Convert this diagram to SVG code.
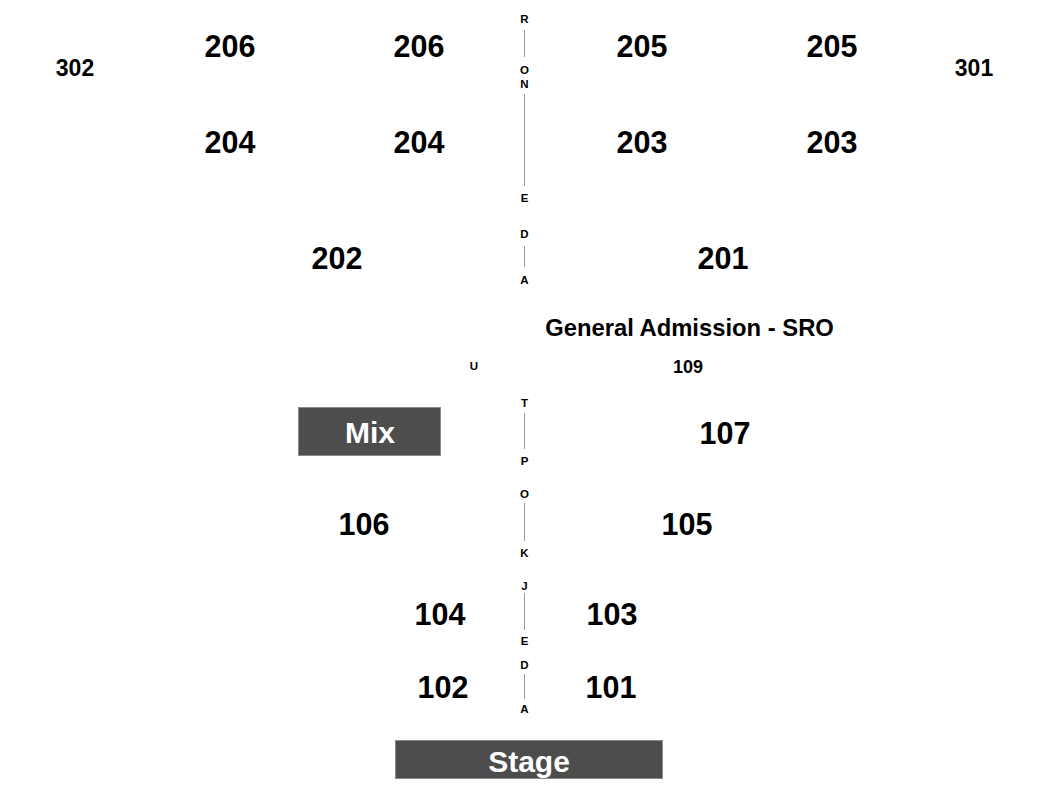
<svg xmlns="http://www.w3.org/2000/svg" width="1050" height="808" viewBox="0 0 1050 808">
<style>
text{font-family:"Liberation Sans",Arial,sans-serif;font-weight:bold;fill:#000;text-anchor:middle}
.big{font-size:30.5px}
.mid{font-size:23px}
.sm{font-size:18px}
.ga{font-size:23.8px}
.ltr{font-size:11.5px}
.box{fill:#4d4d4d;stroke:#8a8a8a;stroke-width:1}
.lbl{fill:#fff;font-size:30px}
.aisle{stroke:#9a9a9a;stroke-width:1;fill:none}
</style>
<rect width="1050" height="808" fill="#fff"/>
<g id="connectors">
<line class="aisle" x1="524.5" y1="30" x2="524.5" y2="57"/>
<line class="aisle" x1="524.5" y1="94" x2="524.5" y2="186"/>
<line class="aisle" x1="524.5" y1="246" x2="524.5" y2="267"/>
<line class="aisle" x1="524.5" y1="413" x2="524.5" y2="449"/>
<line class="aisle" x1="524.5" y1="503" x2="524.5" y2="541"/>
<line class="aisle" x1="524.5" y1="593" x2="524.5" y2="630"/>
<line class="aisle" x1="524.5" y1="674" x2="524.5" y2="699"/>
</g>
<g id="aisle-letters">
<text class="ltr" x="524.5" y="22.5">R</text>
<text class="ltr" x="524.5" y="74">O</text>
<text class="ltr" x="524.5" y="87.5">N</text>
<text class="ltr" x="524.5" y="202">E</text>
<text class="ltr" x="524.5" y="238">D</text>
<text class="ltr" x="524.5" y="284">A</text>
<text class="ltr" x="474" y="370">U</text>
<text class="ltr" x="524.5" y="406.5">T</text>
<text class="ltr" x="524.5" y="465">P</text>
<text class="ltr" x="524.5" y="498">O</text>
<text class="ltr" x="524.5" y="557">K</text>
<text class="ltr" x="524.5" y="590">J</text>
<text class="ltr" x="524.5" y="645">E</text>
<text class="ltr" x="524.5" y="669">D</text>
<text class="ltr" x="524.5" y="712.5">A</text>
</g>
<g id="s302"><text class="mid" x="75" y="75.5">302</text></g>
<g id="s301"><text class="mid" x="974" y="75.5">301</text></g>
<g id="s206a"><text class="big" x="230" y="57">206</text></g>
<g id="s206b"><text class="big" x="419" y="57">206</text></g>
<g id="s205a"><text class="big" x="642" y="57">205</text></g>
<g id="s205b"><text class="big" x="832" y="57">205</text></g>
<g id="s204a"><text class="big" x="230" y="153">204</text></g>
<g id="s204b"><text class="big" x="419" y="153">204</text></g>
<g id="s203a"><text class="big" x="642" y="153">203</text></g>
<g id="s203b"><text class="big" x="832" y="153">203</text></g>
<g id="s202"><text class="big" x="337" y="269">202</text></g>
<g id="s201"><text class="big" x="723" y="269">201</text></g>
<g id="ga"><text class="ga" x="689.5" y="336">General Admission - SRO</text></g>
<g id="s109"><text class="sm" x="688" y="372.5">109</text></g>
<g id="mix"><rect class="box" x="298.5" y="407.5" width="142" height="48"/><text class="lbl" x="370" y="443">Mix</text></g>
<g id="s107"><text class="big" x="725" y="444">107</text></g>
<g id="s106"><text class="big" x="364" y="535">106</text></g>
<g id="s105"><text class="big" x="687" y="535">105</text></g>
<g id="s104"><text class="big" x="440" y="625">104</text></g>
<g id="s103"><text class="big" x="612" y="625">103</text></g>
<g id="s102"><text class="big" x="443" y="698">102</text></g>
<g id="s101"><text class="big" x="611" y="698">101</text></g>
<g id="stage"><rect class="box" x="395.5" y="740.5" width="267" height="38"/><text class="lbl" x="529" y="772">Stage</text></g>
</svg>
